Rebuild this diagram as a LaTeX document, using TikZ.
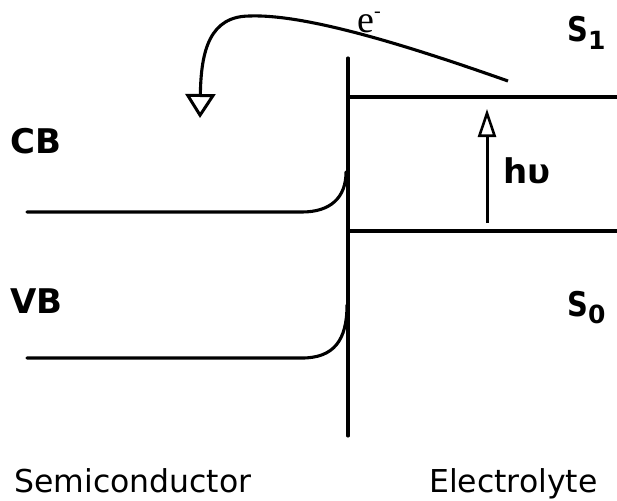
\documentclass[tikz,border=0pt]{standalone}
\usepackage{fontspec}
\setmainfont{DejaVu Sans}
\newfontfamily\serifA{Liberation Serif}
\usetikzlibrary{arrows.meta}
\begin{document}
\begin{tikzpicture}[x=1pt,y=-1pt,
  lvl/.style={line width=3.1pt, line cap=round},
  boldlbl/.style={inner sep=0pt, anchor=base west, font=\fontsize{34}{36}\selectfont\bfseries},
  sublbl/.style={inner sep=0pt, anchor=base west, font=\fontsize{34}{36}\selectfont\bfseries},
  sidelbl/.style={inner sep=0pt, anchor=base west, font=\fontsize{31.5}{34}\selectfont}]
\useasboundingbox (0,0) rectangle (617,500);
\fill[white] (0,0) rectangle (617,500);
% interface
\coordinate (itop) at (348,58);
\coordinate (ibot) at (348,436);
\draw[lvl] (itop) -- (ibot);
% electrolyte levels
\coordinate (s1a) at (348,97);
\coordinate (s1b) at (617,97);
\coordinate (s0a) at (348,231);
\coordinate (s0b) at (617,231);
\draw[lvl] (s1a) -- (s1b);
\draw[lvl] (s0a) -- (s0b);
% semiconductor bands
\coordinate (cb0) at (27,212);
\coordinate (cb1) at (302,212);
\coordinate (cb2) at (346,172);
\coordinate (vb0) at (27,358);
\coordinate (vb1) at (302,358);
\coordinate (vb2) at (347,305);
\draw[lvl] (cb0) -- (cb1) .. controls (330,212) and (346,198) .. (cb2);
\draw[lvl] (vb0) -- (vb1) .. controls (334,358) and (347,340) .. (vb2);
% excitation arrow
\coordinate (hvbot) at (487,223);
\coordinate (hvtop) at (487,109);
\draw[line width=3pt, -{Triangle[open, length=28pt, width=18pt, line width=2.6pt]}] (hvbot) -- (hvtop);
% electron transfer
\coordinate (estart) at (508,81);
\coordinate (epeak) at (250,16);
\coordinate (eend) at (200,118);
\draw[line width=3.1pt, -{Triangle[open, length=24pt, width=30pt, line width=3pt]}]
  (estart) .. controls (420,50) and (310,14) .. (epeak)
           .. controls (210,16) and (201,50) .. (eend);
% labels
\node[boldlbl] (cb) at (10,153) {CB};
\node[boldlbl] (vb) at (10,313) {VB};
\node[sublbl] (s1) at (567,42) {\scalebox{0.85}[1]{S}\raisebox{-8pt}{\fontsize{25}{27}\selectfont 1}};
\node[sublbl] (s0) at (567,316) {\scalebox{0.85}[1]{S}\raisebox{-7pt}{\fontsize{25}{27}\selectfont 0}};
\node[inner sep=0pt, anchor=base west, font=\fontsize{34}{36}\selectfont\bfseries] (hv) at (503,183) {hυ};
\node[inner sep=0pt, anchor=base west, font=\serifA\fontsize{38}{40}\selectfont] (e) at (357,33) {e\raisebox{15pt}{\fontsize{20}{22}\selectfont -}};
\node[sidelbl] (semi) at (14,492) {Semiconductor};
\node[sidelbl] (elec) at (429,492) {Electrolyte};
\end{tikzpicture}
\end{document}
